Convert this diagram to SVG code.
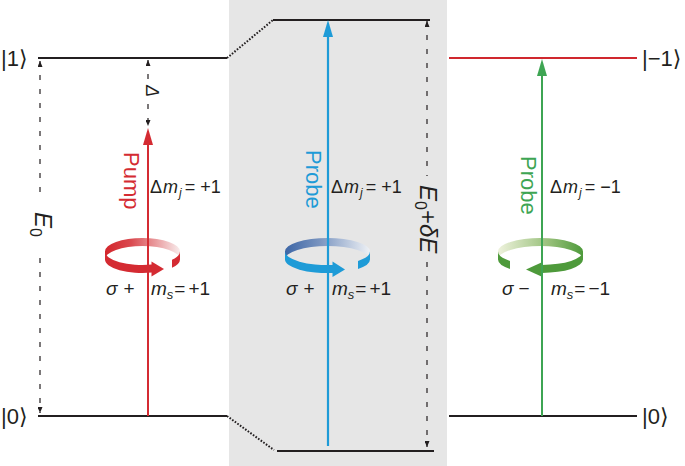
<svg xmlns="http://www.w3.org/2000/svg" width="685" height="466" viewBox="0 0 685 466">
<style>
text{font-family:"Liberation Sans","DejaVu Sans",Arial,sans-serif;fill:#231f20}
.lvl{stroke:#231f20;stroke-width:2.2;fill:none}
.dot{stroke:#231f20;stroke-width:2;stroke-dasharray:1.6 1.6;fill:none}
.dash{stroke:#231f20;stroke-width:1.2;stroke-dasharray:5 9;fill:none;marker-start:url(#dart);marker-end:url(#dart)}
.ket{font-size:22px}
.lab{font-size:18px}
.lab2{font-size:19px}
.it{font-style:italic}
.big{font-size:24px}
.vt{font-size:22px}
</style>
<defs>
<marker id="dart" viewBox="0 0 6 5" refX="6" refY="2.5" markerWidth="6" markerHeight="5" markerUnits="userSpaceOnUse" orient="auto-start-reverse"><path d="M0,0 L6,2.5 L0,5 Z" fill="#231f20"/></marker>
<marker id="hR" viewBox="0 0 17 10" refX="9" refY="5" markerWidth="17" markerHeight="10" markerUnits="userSpaceOnUse" orient="auto"><path d="M0,0 L17,5 L0,10 Z" fill="#d42b32"/></marker>
<marker id="hB" viewBox="0 0 17 10" refX="9" refY="5" markerWidth="17" markerHeight="10" markerUnits="userSpaceOnUse" orient="auto"><path d="M0,0 L17,5 L0,10 Z" fill="#1e9bd7"/></marker>
<marker id="hG" viewBox="0 0 17 10" refX="9" refY="5" markerWidth="17" markerHeight="10" markerUnits="userSpaceOnUse" orient="auto"><path d="M0,0 L17,5 L0,10 Z" fill="#3ea553"/></marker>
<linearGradient id="gR" gradientUnits="userSpaceOnUse" x1="105" y1="0" x2="180" y2="0"><stop offset="0" stop-color="#d3262c"/><stop offset="0.35" stop-color="#da4a50"/><stop offset="1" stop-color="#f8ecec"/></linearGradient>
<linearGradient id="gB" gradientUnits="userSpaceOnUse" x1="285" y1="0" x2="370" y2="0"><stop offset="0" stop-color="#3d66a6"/><stop offset="0.4" stop-color="#7893bf"/><stop offset="1" stop-color="#eef1f5"/></linearGradient>
<linearGradient id="gG" gradientUnits="userSpaceOnUse" x1="498" y1="0" x2="583" y2="0"><stop offset="0" stop-color="#eef2dc"/><stop offset="0.6" stop-color="#98c07a"/><stop offset="1" stop-color="#4e9a3b"/></linearGradient>
</defs>

<rect id="panel" x="229" y="0" width="218" height="466" fill="#e6e6e6"/>

<g id="level-1-left">
<line class="lvl" x1="38" y1="58" x2="227" y2="58"/>
<text class="ket" x="1" y="66">|1⟩</text>
</g>
<g id="level-0-left">
<line class="lvl" x1="38" y1="416" x2="227" y2="416"/>
<text class="ket" x="1" y="424">|0⟩</text>
</g>
<g id="level-top-shifted">
<line class="lvl" x1="273" y1="20" x2="430" y2="20"/>
</g>
<g id="level-bottom-shifted">
<line class="lvl" x1="277" y1="451" x2="434" y2="451"/>
</g>
<g id="level-m1-right">
<line x1="449" y1="58" x2="637" y2="58" stroke="#d0282e" stroke-width="2"/>
<text class="ket" x="642" y="66">|−1⟩</text>
</g>
<g id="level-0-right">
<line class="lvl" x1="449" y1="416" x2="637" y2="416"/>
<text class="ket" x="642" y="424">|0⟩</text>
</g>

<g id="ring-red">
<path d="M105,251.5 A37.5,13.5 0 0 1 180,251.5 L180,259.5 A37.5,13.5 0 0 0 105,259.5 Z" fill="url(#gR)"/>
<path d="M105,251.5 A37.5,13.5 0 0 0 152,264.6 L152,272.6 A37.5,13.5 0 0 1 105,259.5 Z" fill="#d42b32"/>
<path d="M151.5,261.5 L164,269 L151.5,276.5 Z" fill="#d42b32"/>
<path d="M172,259.8 A37.5,13.5 0 0 0 180,251.5 L180,259.5 A37.5,13.5 0 0 1 172,267.8 Z" fill="#d42b32"/>
</g>
<g id="ring-blue">
<path d="M285,251.5 A42.5,13.5 0 0 1 370,251.5 L370,259.5 A42.5,13.5 0 0 0 285,259.5 Z" fill="url(#gB)"/>
<path d="M285,251.5 A42.5,13.5 0 0 0 333,264.9 L333,272.9 A42.5,13.5 0 0 1 285,259.5 Z" fill="#1e9bd7"/>
<path d="M332.5,261.5 L345,269.5 L332.5,277 Z" fill="#1e9bd7"/>
<path d="M358,260.9 A42.5,13.5 0 0 0 370,251.5 L370,259.5 A42.5,13.5 0 0 1 358,268.9 Z" fill="#1e9bd7"/>
</g>
<g id="ring-green">
<path d="M498,251.5 A42.5,13.5 0 0 1 583,251.5 L583,259.5 A42.5,13.5 0 0 0 498,259.5 Z" fill="url(#gG)"/>
<path d="M583,251.5 A42.5,13.5 0 0 1 542,265 L542,273 A42.5,13.5 0 0 0 583,259.5 Z" fill="#4e9a3b"/>
<path d="M542.5,262 L526,269.5 L542.5,277 Z" fill="#4e9a3b"/>
<path d="M498,251.5 A42.5,13.5 0 0 0 510,260.9 L510,268.9 A42.5,13.5 0 0 1 498,259.5 Z" fill="#4e9a3b"/>
</g>

<g id="connectors">
<path class="dot" d="M227,58 L273,20"/>
<path class="dot" d="M227,416 L274,450"/>
<line x1="148" y1="416" x2="148" y2="136" stroke="#d42b32" stroke-width="2" marker-end="url(#hR)"/>
<line x1="328" y1="446" x2="328" y2="28" stroke="#1e9bd7" stroke-width="2.2" marker-end="url(#hB)"/>
<line x1="542" y1="416" x2="542" y2="67" stroke="#3ea553" stroke-width="2" marker-end="url(#hG)"/>
<path class="dash" d="M40,61 V196 M40,258 V413"/>
<path class="dash" d="M148,60 V80 M148,104 V126"/>
<path class="dash" d="M427,21 V176 M427,262 V447"/>
</g>

<g id="labels">
<text class="big it" transform="translate(35,212) rotate(90)">E<tspan font-size="16" dy="5" font-style="normal">0</tspan></text>
<text class="lab it" transform="translate(146,85) rotate(90)">Δ</text>
<text class="big" transform="translate(420,185) rotate(90)"><tspan class="it">E</tspan><tspan font-size="16" dy="5">0</tspan><tspan dy="-5">+</tspan><tspan class="it">δE</tspan></text>
<text class="vt" style="fill:#d42b32" transform="translate(124,152) rotate(90)">Pump</text>
<text class="vt" style="fill:#1e9bd7" transform="translate(306,150) rotate(90)">Probe</text>
<text class="vt" style="fill:#3ea553" transform="translate(521,156) rotate(90)">Probe</text>

<text class="lab" x="150" y="193">Δ<tspan class="it" dx="1">m</tspan><tspan class="it" font-size="12" dx="1" dy="4">j</tspan><tspan dx="3" dy="-4">=</tspan><tspan dx="5">+1</tspan></text>
<text class="lab" x="331" y="193">Δ<tspan class="it" dx="1">m</tspan><tspan class="it" font-size="12" dx="1" dy="4">j</tspan><tspan dx="3" dy="-4">=</tspan><tspan dx="5">+1</tspan></text>
<text class="lab" x="550" y="193">Δ<tspan class="it" dx="1">m</tspan><tspan class="it" font-size="12" dx="1" dy="4">j</tspan><tspan dx="3" dy="-4">=</tspan><tspan dx="5">−1</tspan></text>

<text class="lab2" x="106" y="295"><tspan class="it">σ</tspan><tspan dx="6">+</tspan></text>
<text class="lab2" x="151" y="295"><tspan class="it">m</tspan><tspan class="it" font-size="13" dy="4">s</tspan><tspan dx="1" dy="-4">=</tspan><tspan dx="3">+1</tspan></text>
<text class="lab2" x="286" y="295"><tspan class="it">σ</tspan><tspan dx="6">+</tspan></text>
<text class="lab2" x="332" y="295"><tspan class="it">m</tspan><tspan class="it" font-size="13" dy="4">s</tspan><tspan dx="1" dy="-4">=</tspan><tspan dx="3">+1</tspan></text>
<text class="lab2" x="502" y="295"><tspan class="it">σ</tspan><tspan dx="5">−</tspan></text>
<text class="lab2" x="551" y="295"><tspan class="it">m</tspan><tspan class="it" font-size="13" dy="4">s</tspan><tspan dx="1" dy="-4">=</tspan><tspan dx="3">−1</tspan></text>
</g>
</svg>
